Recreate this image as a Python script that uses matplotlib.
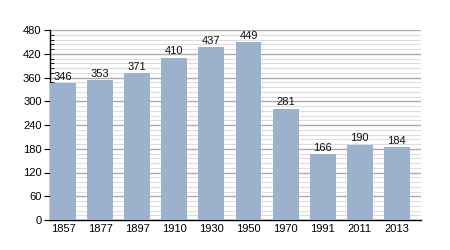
from matplotlib import pyplot as plt
from matplotlib.ticker import MultipleLocator
import numpy as np

years = ["1857", "1877", "1897", "1910", "1930", "1950", "1970", "1991", "2011", "2013"]
population = [346, 353, 371, 410, 437, 449, 281, 166, 190, 184]

plt.rcParams['font.family'] = ['Liberation Sans', 'DejaVu Sans']

fig = plt.figure(figsize=(4.5, 2.5), dpi=100)
ax = fig.add_axes([50 / 450, 30 / 250, 371 / 450, 190 / 250])

x = np.arange(len(years))
bars = ax.bar(x, population, width=0.7, color='#9bb1cc', zorder=3)
for rect, v in zip(bars, population):
    ax.annotate(str(v), (rect.get_x() + rect.get_width() / 2, v),
                xytext=(0, 1), textcoords='offset points',
                ha='center', va='bottom', fontsize=8, color='#111111', zorder=4)

ax.set_xlim(-0.35, len(years) - 0.35)
ax.set_ylim(0, 480)
ax.set_xticks(x)
ax.set_xticklabels(years)
ax.yaxis.set_major_locator(MultipleLocator(60))
ax.yaxis.set_minor_locator(MultipleLocator(12))

ax.grid(which='major', axis='y', color='#aaaaaa', linewidth=1, zorder=1)
ax.grid(which='minor', axis='y', color='#dddddd', linewidth=0.8, zorder=0)

for side in ['top', 'right']:
    ax.spines[side].set_visible(False)
ax.spines['left'].set_linewidth(1)
ax.spines['bottom'].set_linewidth(1)
ax.tick_params(axis='x', length=0, labelsize=8, pad=3)
ax.tick_params(axis='y', which='major', direction='out', length=4, labelsize=8, pad=2)
ax.tick_params(axis='y', which='minor', direction='in', length=3)

fig.savefig('out.png', dpi=100)
